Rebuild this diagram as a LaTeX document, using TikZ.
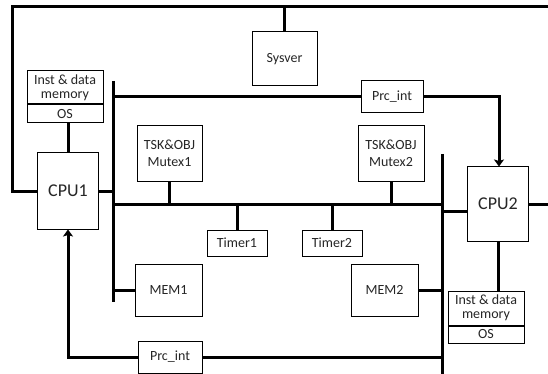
\documentclass[tikz,border=0pt]{standalone}
\usepackage{fontspec}
\setmainfont{Carlito}
\usetikzlibrary{arrows.meta}
\begin{document}
\begin{tikzpicture}[x=1pt,y=-1pt,
  box/.style={draw=black,line width=1pt,fill=white,inner sep=0pt,align=center,
    font=\fontsize{14}{17}\selectfont,text=black!85},
  cpubox/.style={box,font=\fontsize{18}{20}\selectfont},
  wire/.style={line width=3pt},
  arr/.style={wire,-{Stealth[length=7pt,width=10pt,inset=1.5pt]}}]
\useasboundingbox (0,0) rectangle (548,374);

% boxes
\node[box,minimum width=76pt,minimum height=33pt] (memL) at (65,87.5) {Inst \& data\\[-3pt]memory};
\node[box,minimum width=76pt,minimum height=18pt,anchor=north] (osL) at (memL.south) {OS};
\node[cpubox,minimum width=61pt,minimum height=76pt] (cpu1) at (68,191) {CPU1};
\node[box,minimum width=65pt,minimum height=54pt] (sysver) at (284.5,59) {Sysver};
\node[box,minimum width=62pt,minimum height=32pt] (prcT) at (392,97) {Prc\_int};
\node[box,minimum width=65pt,minimum height=55pt] (mtx1) at (169.5,153.5) {TSK\&OBJ\\Mutex1};
\node[box,minimum width=66pt,minimum height=55pt] (mtx2) at (391,153.5) {TSK\&OBJ\\Mutex2};
\node[box,minimum width=60pt,minimum height=26pt] (tim1) at (237,243) {Timer1};
\node[box,minimum width=60pt,minimum height=26pt] (tim2) at (332,243) {Timer2};
\node[box,minimum width=67pt,minimum height=52pt] (mem1) at (168.5,290) {MEM1};
\node[box,minimum width=67pt,minimum height=52pt] (mem2) at (384.5,290) {MEM2};
\node[cpubox,minimum width=61pt,minimum height=74pt] (cpu2) at (498,204) {CPU2};
\node[box,minimum width=76pt,minimum height=34pt] (memR) at (486,308) {Inst \& data\\[-3pt]memory};
\node[box,minimum width=76pt,minimum height=17pt,anchor=north] (osR) at (memR.south) {OS};
\node[box,minimum width=64pt,minimum height=32pt] (prcB) at (170,357) {Prc\_int};

% coordinates
\coordinate (tl) at (12,7);
\coordinate (tr) at (548,7);
\coordinate (bLt) at (113,81);
\coordinate (bLb) at (113,302);
\coordinate (bRt) at (442,154);
\coordinate (bRb) at (442,374);
\coordinate (hL) at (113,97);
\coordinate (mL) at (113,204);
\coordinate (mR) at (442,204);
\coordinate (rc) at (442,211);
\coordinate (rE) at (548,204);
\coordinate (pB) at (442,357);
\coordinate (pT) at (499,97);

% wires
\draw[wire] (cpu1.west) -| (tl) -- (tr);
\draw[wire] (sysver.north) -- (sysver.north |- tl);
\draw[wire] (bLt) -- (bLb);
\draw[wire] (bRt) -- (bRb);
\draw[wire] (hL) -- (prcT.west);
\draw[arr] (prcT.east) -- (pT) -- (pT |- cpu2.north);
\draw[wire] (cpu1.north) -- (cpu1.north |- osL.south);
\draw[wire] (cpu1.east) -- (cpu1.east -| bLt);
\draw[wire] (mL) -- (mR);
\draw[wire] (mtx1.south) -- (mtx1.south |- mL);
\draw[wire] (mtx2.south) -- (mtx2.south |- mL);
\draw[wire] (tim1.north) -- (tim1.north |- mL);
\draw[wire] (tim2.north) -- (tim2.north |- mL);
\draw[wire] (mem1.west) -- (mem1.west -| bLt);
\draw[wire] (mem2.east) -- (mem2.east -| bRt);
\draw[wire] (rc) -- (rc -| cpu2.west);
\draw[wire] (cpu2.east) -- (rE);
\draw[wire] (cpu2.south) -- (cpu2.south |- memR.north);
\draw[wire] (prcB.east) -- (pB);
\draw[arr] (prcB.west) -| (cpu1.south);
\end{tikzpicture}
\end{document}
